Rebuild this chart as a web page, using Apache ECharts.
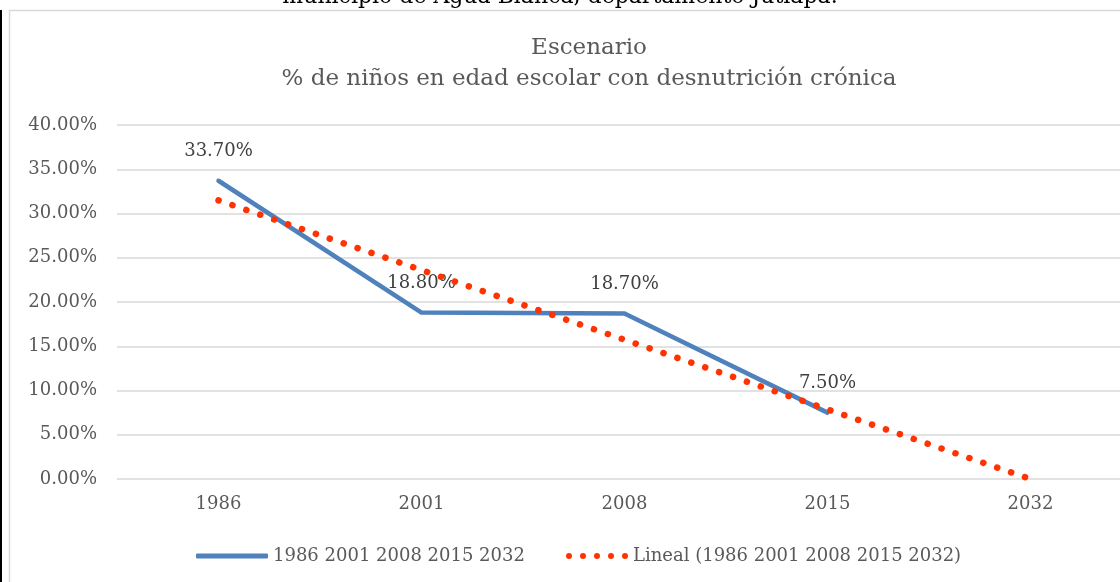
<!DOCTYPE html>
<html>
<head>
<meta charset="utf-8">
<script src="https://cdn.jsdelivr.net/npm/echarts@6/dist/echarts.min.js"></script>
<style>
	html, body { margin: 0; padding: 0; background: #fff; }
	#chart { width: 1120px; height: 582px; }
</style>
</head>
<body>
<div id="chart"></div>
<script>
const years = ['1986', '2001', '2008', '2015', '2032']
const serieValues = [33.7, 18.8, 18.7, 7.5, null]
const trendValues = [31.48, 23.61, 15.74, 7.87, 0.0]
const yTicks = [0, 5, 10, 15, 20, 25, 30, 35, 40]

const serieName = '1986 2001 2008 2015 2032'
const trendName = 'Lineal (1986 2001 2008 2015 2032)'
const font = 'DejaVu Serif'

const chart = echarts.init(document.getElementById('chart'))
const dots = 'path://M3,3m-3,0a3,3 0 1,0 6,0a3,3 0 1,0 -6,0M17,3m-3,0a3,3 0 1,0 6,0a3,3 0 1,0 -6,0M31,3m-3,0a3,3 0 1,0 6,0a3,3 0 1,0 -6,0M45,3m-3,0a3,3 0 1,0 6,0a3,3 0 1,0 -6,0M59,3m-3,0a3,3 0 1,0 6,0a3,3 0 1,0 -6,0'

chart.setOption({
	backgroundColor: '#fff',
	textStyle: { fontFamily: font },
	title: {
		text: 'Escenario\n% de niños en edad escolar con desnutrición crónica',
		left: 584, top: 28, textAlign: 'center',
		textStyle: { fontFamily: font, fontWeight: 'normal', fontSize: 23, lineHeight: 31, color: '#595959' }
	},
	graphic: [
		{ type: 'text', left: 'center', top: -14, style: { text: 'municipio de Agua Blanca, departamento Jutiapa.', font: '22px ' + font, fill: '#000' } },
		{ type: 'rect', shape: { x: 9.5, y: 10.5, width: 1200, height: 700 }, style: { fill: null, stroke: '#d9d9d9', lineWidth: 1.5 } },
		{ type: 'line', shape: { x1: 1, y1: 10, x2: 1, y2: 582 }, style: { stroke: '#000', lineWidth: 2 } }
	],
	legend: [
		{
			data: [serieName], left: 191, top: 542, itemWidth: 72, itemHeight: 5, itemGap: 4,
			icon: 'roundRect',
			textStyle: { fontFamily: font, fontSize: 18, color: '#595959' }
		},
		{
			data: [trendName], left: 561, top: 542, itemWidth: 62, itemHeight: 6,
			icon: dots,
			textStyle: { fontFamily: font, fontSize: 18, color: '#595959' }
		}
	],
	grid: { left: 117, top: 125, width: 1015, height: 354, outerBoundsMode: 'none', containLabel: false },
	xAxis: {
		type: 'category', data: years, boundaryGap: true,
		axisLine: { show: false }, axisTick: { show: false },
		axisLabel: { fontFamily: font, fontSize: 18, color: '#595959', margin: 16 }
	},
	yAxis: {
		type: 'value', min: yTicks[0], max: yTicks[yTicks.length - 1], interval: 5,
		axisLine: { show: false }, axisTick: { show: false },
		splitLine: { lineStyle: { color: '#d9d9d9', width: 1.5 } },
		axisLabel: { fontFamily: font, fontSize: 18, color: '#595959', margin: 20, formatter: v => v.toFixed(2) + '%' }
	},
	series: [
		{
			name: serieName, type: 'line', data: serieValues, showSymbol: true, symbol: 'circle', symbolSize: 0,
			lineStyle: { color: '#4f81bd', width: 4.5, cap: 'round', join: 'round' },
			itemStyle: { color: '#4f81bd' },
			label: { show: true, position: 'top', distance: 20, fontFamily: font, fontSize: 18, color: '#404040', formatter: p => p.value.toFixed(2) + '%' },
			z: 2
		},
		{
			name: trendName, type: 'line', data: trendValues, showSymbol: false, symbol: 'none',
			lineStyle: { color: '#ff3300', width: 6.5, type: [0.1, 14.6], cap: 'round' },
			itemStyle: { color: '#ff3300' },
			z: 3
		}
	]
})
</script>
</body>
</html>
